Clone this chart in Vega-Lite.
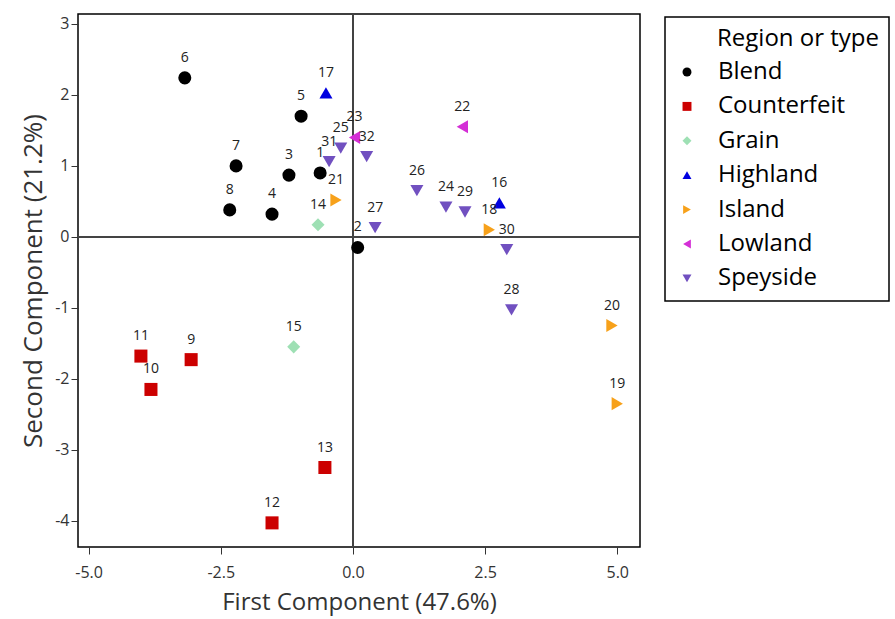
{
  "$schema": "https://vega.github.io/schema/vega-lite/v6.json",
  "autosize": "none",
  "width": 562,
  "height": 533,
  "padding": {"left": 78, "top": 14, "right": 255, "bottom": 72},
  "background": "white",
  "config": {
    "view": {"stroke": "black", "strokeWidth": 1.5},
    "font": "Open Sans",
    "axis": {
      "grid": false,
      "domain": false,
      "tickColor": "#333",
      "tickSize": 7,
      "labelColor": "#333",
      "labelFont": "Open Sans",
      "labelFontSize": 16,
      "labelExpr": "replace(datum.label, '\u2212', '-')",
      "titleFont": "Open Sans",
      "titleFontWeight": "normal",
      "titleColor": "#333"
    }
  },
  "data": {
    "values": [
      {"id": "1", "pc1": -0.62, "pc2": 0.9, "group": "Blend"},
      {"id": "2", "pc1": 0.09, "pc2": -0.15, "group": "Blend"},
      {"id": "3", "pc1": -1.21, "pc2": 0.87, "group": "Blend"},
      {"id": "4", "pc1": -1.53, "pc2": 0.32, "group": "Blend"},
      {"id": "5", "pc1": -0.98, "pc2": 1.7, "group": "Blend"},
      {"id": "6", "pc1": -3.18, "pc2": 2.24, "group": "Blend"},
      {"id": "7", "pc1": -2.21, "pc2": 1.0, "group": "Blend"},
      {"id": "8", "pc1": -2.33, "pc2": 0.38, "group": "Blend"},
      {"id": "9", "pc1": -3.06, "pc2": -1.73, "group": "Counterfeit"},
      {"id": "10", "pc1": -3.82, "pc2": -2.15, "group": "Counterfeit"},
      {"id": "11", "pc1": -4.01, "pc2": -1.68, "group": "Counterfeit"},
      {"id": "12", "pc1": -1.53, "pc2": -4.03, "group": "Counterfeit"},
      {"id": "13", "pc1": -0.53, "pc2": -3.25, "group": "Counterfeit"},
      {"id": "14", "pc1": -0.66, "pc2": 0.17, "group": "Grain"},
      {"id": "15", "pc1": -1.12, "pc2": -1.55, "group": "Grain"},
      {"id": "16", "pc1": 2.77, "pc2": 0.48, "group": "Highland"},
      {"id": "17", "pc1": -0.51, "pc2": 2.03, "group": "Highland"},
      {"id": "18", "pc1": 2.58, "pc2": 0.1, "group": "Island"},
      {"id": "19", "pc1": 5.0, "pc2": -2.35, "group": "Island"},
      {"id": "20", "pc1": 4.9, "pc2": -1.25, "group": "Island"},
      {"id": "21", "pc1": -0.32, "pc2": 0.52, "group": "Island"},
      {"id": "22", "pc1": 2.07, "pc2": 1.55, "group": "Lowland"},
      {"id": "23", "pc1": 0.03, "pc2": 1.4, "group": "Lowland"},
      {"id": "24", "pc1": 1.76, "pc2": 0.42, "group": "Speyside"},
      {"id": "25", "pc1": -0.23, "pc2": 1.25, "group": "Speyside"},
      {"id": "26", "pc1": 1.21, "pc2": 0.65, "group": "Speyside"},
      {"id": "27", "pc1": 0.42, "pc2": 0.13, "group": "Speyside"},
      {"id": "28", "pc1": 3.0, "pc2": -1.03, "group": "Speyside"},
      {"id": "29", "pc1": 2.12, "pc2": 0.35, "group": "Speyside"},
      {"id": "30", "pc1": 2.91, "pc2": -0.18, "group": "Speyside"},
      {"id": "31", "pc1": -0.45, "pc2": 1.06, "group": "Speyside"},
      {"id": "32", "pc1": 0.26, "pc2": 1.13, "group": "Speyside"}
    ]
  },
  "layer": [
    {
      "mark": {"type": "rule", "color": "#444", "strokeWidth": 1.2},
      "encoding": {"x": {"datum": 0, "type": "quantitative"}}
    },
    {
      "mark": {"type": "rule", "color": "#444", "strokeWidth": 1.2},
      "encoding": {"y": {"datum": 0, "type": "quantitative"}}
    },
    {
      "mark": {"type": "point", "filled": true, "opacity": 1, "size": 170},
      "encoding": {
        "x": {
          "field": "pc1", "type": "quantitative",
          "scale": {"domain": [-5.2, 5.43], "nice": false, "zero": false},
          "axis": {"values": [-5, -2.5, 0, 2.5, 5], "format": ".1f", "title": "First Component (47.6%)", "titleFontSize": 24, "titlePadding": 10, "labelPadding": 10}
        },
        "y": {
          "field": "pc2", "type": "quantitative",
          "scale": {"domain": [-4.37, 3.14], "nice": false, "zero": false},
          "axis": {"values": [-4, -3, -2, -1, 0, 1, 2, 3], "format": "d", "title": "Second Component (21.2%)", "titleFontSize": 26, "titlePadding": 8, "labelPadding": 2}
        },
        "color": {
          "field": "group", "type": "nominal",
          "scale": {
            "domain": ["Blend", "Counterfeit", "Grain", "Highland", "Island", "Lowland", "Speyside"],
            "range": ["#000000", "#cc0000", "#9ee0b4", "#0000e0", "#f7a11a", "#d42fd6", "#7150c0"]
          },
          "legend": {
            "title": "Region or type",
            "orient": "none",
            "legendX": 587,
            "legendY": 3,
            "padding": 10,
            "strokeColor": "black",
            "fillColor": "white",
            "titleFont": "Open Sans",
            "titleFontSize": 24,
            "titleFontWeight": "normal",
            "titleColor": "black",
            "titlePadding": 9,
            "labelFont": "Open Sans",
            "labelFontSize": 24,
            "labelColor": "black",
            "labelOffset": 19,
            "symbolOffset": 0,
            "rowPadding": 10.4,
            "symbolSize": 80,
            "symbolStrokeWidth": 0,
            "symbolOpacity": 1,
            "encode": {
              "legend": {"update": {"strokeWidth": {"value": 1.5}}},
              "title": {"update": {"dx": {"value": 42}}}
            }
          }
        },
        "shape": {
          "field": "group", "type": "nominal",
          "scale": {
            "domain": ["Blend", "Counterfeit", "Grain", "Highland", "Island", "Lowland", "Speyside"],
            "range": ["circle", "square", "diamond", "triangle-up", "triangle-right", "triangle-left", "triangle-down"]
          }
        }
      }
    },
    {
      "mark": {"type": "text", "dy": -20, "fontSize": 14, "font": "Open Sans", "color": "#222"},
      "encoding": {
        "x": {"field": "pc1", "type": "quantitative"},
        "y": {"field": "pc2", "type": "quantitative"},
        "text": {"field": "id"}
      }
    }
  ]
}
